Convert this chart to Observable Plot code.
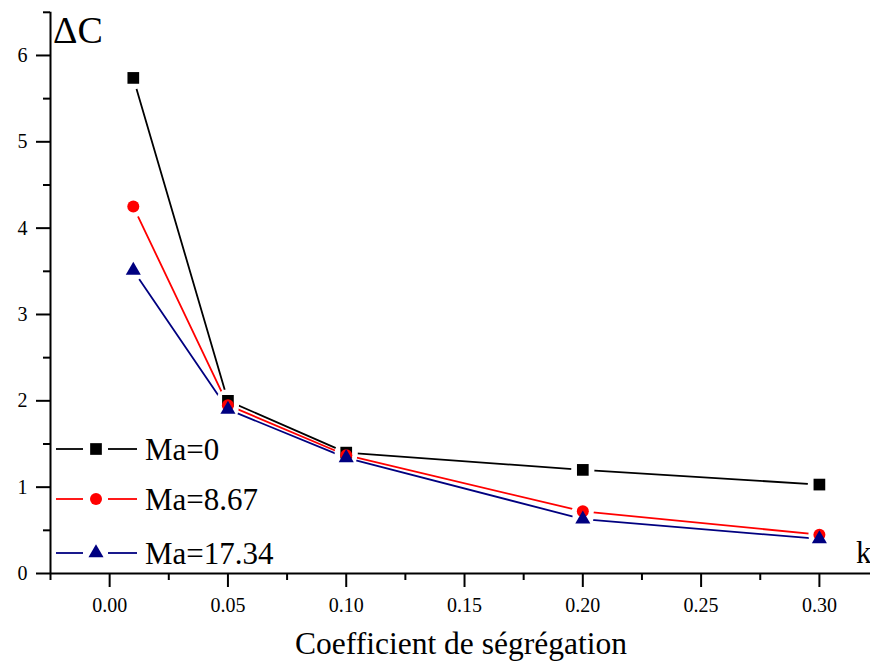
<!DOCTYPE html>
<html><head><meta charset="utf-8">
<script src="https://cdn.jsdelivr.net/npm/d3@7"></script>
<script src="https://cdn.jsdelivr.net/npm/@observablehq/plot@0.6"></script>
<style>
body{margin:0;background:#fff}
#chart{position:relative;width:870px;height:662px}
</style>
</head><body><div id="chart"></div>
<script>
const kValues = [0.01, 0.05, 0.10, 0.20, 0.30];
const ma0 = [5.74, 2.00, 1.40, 1.20, 1.03];
const ma867 = [4.25, 1.95, 1.37, 0.72, 0.45];
const ma1734 = [3.51, 1.90, 1.34, 0.63, 0.40];
const seriesNames = ["Ma=0", "Ma=8.67", "Ma=17.34"];
const seriesValues = [ma0, ma867, ma1734];
const seriesColors = ["#000000", "#ff0000", "#000080"];
const seriesSymbols = ["square", "circle", "triangle"];
const seriesRadius = [6.6, 6, 5.6];
const xTicks = [0, 0.05, 0.10, 0.15, 0.20, 0.25, 0.30];
const xMinorTicks = [-0.025, 0.025, 0.075, 0.125, 0.175, 0.225, 0.275];
const yTicks = [0, 1, 2, 3, 4, 5, 6];
const yMinorTicks = [0.5, 1.5, 2.5, 3.5, 4.5, 5.5, 6.5];
const xTitle = "Coefficient de ségrégation";
const yTitle = "ΔC";
const xUnit = "k";

const data = [];
seriesNames.forEach((s, i) => kValues.forEach((k, j) => data.push({k, v: seriesValues[i][j], s, r: seriesRadius[i], hr: seriesRadius[i] + 5})));

const serif = "Liberation Serif";

const chart = Plot.plot({
  width: 870, height: 662,
  marginLeft: 50, marginRight: 0, marginTop: 11.8, marginBottom: 89,
  style: {fontFamily: serif, fontSize: "20px", color: "#000", background: "#fff", overflow: "visible"},
  x: {domain: [-0.025, 0.3216], label: null},
  y: {domain: [0, 6.5], label: null},
  color: {domain: seriesNames, range: seriesColors},
  symbol: {domain: seriesNames, range: seriesSymbols},
  r: {type: "identity"},
  marks: [
    Plot.axisX({ticks: xTicks, tickSize: 14, tickPadding: 10, strokeWidth: 2, tickFormat: d3.format(".2f"), label: null, fill: "#000", style: {letterSpacing: "0.6px"}}),
    Plot.axisX({ticks: xMinorTicks, tickSize: 7, strokeWidth: 2, text: null, label: null}),
    Plot.axisY({ticks: yTicks, tickSize: 14, tickPadding: 9, strokeWidth: 2, tickFormat: d3.format("d"), label: null, fill: "#000"}),
    Plot.axisY({ticks: yMinorTicks, tickSize: 7, strokeWidth: 2, text: null, label: null}),
    Plot.ruleY([0], {stroke: "#000", strokeWidth: 2}),
    Plot.ruleX([-0.025], {stroke: "#000", strokeWidth: 2}),
    Plot.line(data, {x: "k", y: "v", z: "s", stroke: "s", strokeWidth: 1.8}),
    Plot.dot(data, {x: "k", y: "v", r: "hr", fill: "#ffffff", stroke: "none"}),
    Plot.dot(data, {x: "k", y: "v", symbol: "s", r: "r", fill: "s", stroke: "none"})
  ]
});
document.getElementById("chart").appendChild(chart);

const svg = d3.select(chart);
const addText = (x, y, size, txt, anchor = "start") =>
  svg.append("text").attr("x", x).attr("y", y).attr("text-anchor", anchor)
     .style("font-family", serif).attr("font-size", size).attr("fill", "#000").text(txt);
addText(53, 43, 38, yTitle);
addText(856, 563, 31, xUnit);
addText(461, 654, 31.5, xTitle, "middle");

// legend
const legendY = [449, 499, 553];
const sym = {square: d3.symbolSquare, circle: d3.symbolCircle, triangle: d3.symbolTriangle};
seriesNames.forEach((name, i) => {
  const g = svg.append("g").attr("transform", `translate(0,${legendY[i]})`);
  g.append("line").attr("x1", 56).attr("x2", 83).attr("y1", 0).attr("y2", 0).attr("stroke", seriesColors[i]).attr("stroke-width", 1.8);
  g.append("line").attr("x1", 108).attr("x2", 137).attr("y1", 0).attr("y2", 0).attr("stroke", seriesColors[i]).attr("stroke-width", 1.8);
  const rr = seriesRadius[i];
  g.append("path").attr("transform", "translate(96,0)").attr("d", d3.symbol(sym[seriesSymbols[i]], Math.PI * rr * rr)()).attr("fill", seriesColors[i]);
  g.append("text").attr("x", 145).attr("y", 10.5).attr("text-anchor", "start").style("font-family", serif).attr("font-size", 31).attr("fill", "#000").text(name);
});
</script>
</body></html>
